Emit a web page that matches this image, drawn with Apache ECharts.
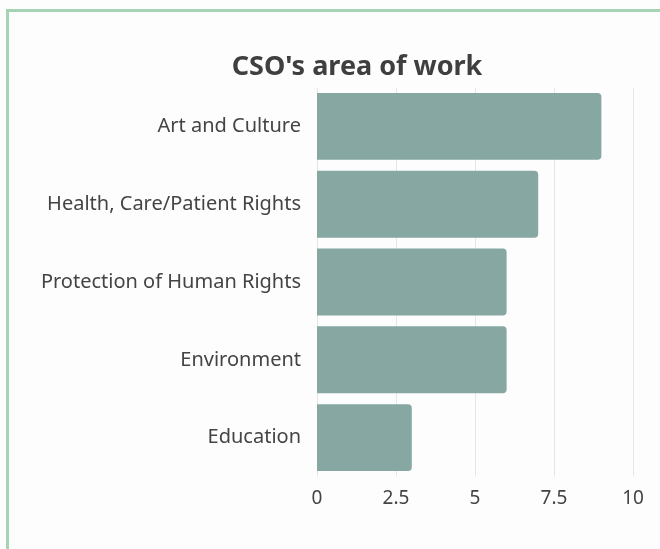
<!DOCTYPE html>
<html>
<head>
<meta charset="utf-8">
<script src="https://cdn.jsdelivr.net/npm/echarts@6/dist/echarts.min.js"></script>
<style>
html,body{margin:0;padding:0;width:660px;height:549px;overflow:hidden;background:#fdfdfd;}
#frame{position:absolute;left:6px;top:9px;width:700px;height:600px;border-left:3px solid #a6d3b4;border-top:3px solid #a6d3b4;box-sizing:border-box;}
#chart{position:absolute;left:0;top:0;width:660px;height:549px;}
</style>
</head>
<body>
<div id="frame"></div>
<div id="chart"></div>
<script>
var categories = ["Art and Culture", "Health, Care/Patient Rights", "Protection of Human Rights", "Environment", "Education"];
var values = [9, 7, 6, 6, 3];
var xTicks = [0, 2.5, 5, 7.5, 10];

var FONT = 'Noto Sans';
var chart = echarts.init(document.getElementById('chart'), null, {renderer: 'canvas'});
chart.setOption({
  backgroundColor: 'transparent',
  animation: false,
  title: {
    text: "CSO's area of work",
    left: 352,
    top: 49,
    textAlign: 'center',
    textStyle: {fontFamily: FONT, fontWeight: 'bold', fontSize: 27, color: '#3f3f3f'}
  },
  grid: {left: 317, right: 27, top: 87.5, bottom: 72.5, containLabel: false},
  xAxis: {
    type: 'value',
    min: xTicks[0],
    max: xTicks[xTicks.length - 1],
    interval: xTicks[1] - xTicks[0],
    axisLine: {show: false},
    axisTick: {show: false},
    splitLine: {show: true, lineStyle: {color: '#e6e6e6', width: 1}},
    axisLabel: {fontFamily: FONT, fontSize: 19, color: '#444', margin: 13}
  },
  yAxis: {
    type: 'category',
    data: categories,
    inverse: true,
    axisLine: {show: false},
    axisTick: {show: false},
    axisLabel: {fontFamily: FONT, fontSize: 20, color: '#444', margin: 16, verticalAlign: 'middle', padding: [9, 0, 0, 0]}
  },
  series: [{
    type: 'bar',
    data: values,
    barCategoryGap: '14%',
    itemStyle: {color: '#86a7a2', borderRadius: [0, 4, 4, 0]}
  }]
});
</script>
</body>
</html>
